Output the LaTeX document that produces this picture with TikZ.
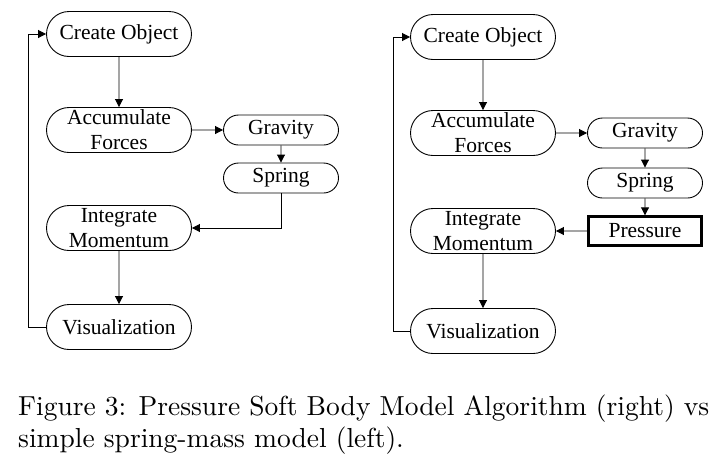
\documentclass[tikz,border=0pt]{standalone}
\usepackage{fontspec}
\newfontfamily\nodefont{Liberation Serif}
\newfontfamily\capfont{lmroman10-regular}[Extension=.otf]
\usetikzlibrary{arrows.meta,shapes.misc}
\begin{document}
\begin{tikzpicture}[x=1pt,y=-1pt,
  base/.style={draw, line width=0.9pt, inner sep=0pt, align=center,
    font=\nodefont\fontsize{21.5}{25}\selectfont},
  big/.style={base, rounded rectangle, minimum width=145pt, minimum height=45pt},
  small/.style={base, rounded rectangle, minimum width=115pt, minimum height=30pt},
  boxnode/.style={base, rectangle, line width=2.4pt, minimum width=113pt, minimum height=29pt},
  arr/.style={line width=0.9pt, -{Triangle[length=8pt,width=8pt]}},
  captext/.style={anchor=base west, inner sep=0pt, font=\capfont\fontsize{27.5}{32}\selectfont}
]
\useasboundingbox (0,0) rectangle (713,456);
% left diagram
\node[big] (c1) at (119,34) {Create Object};
\node[big] (a1) at (119,130) {Accumulate\\Forces};
\node[small] (g1) at (281,130) {Gravity};
\node[small] (s1) at (281,178) {Spring};
\node[big] (i1) at (119,228) {Integrate\\Momentum};
\node[big] (v1) at (119,327) {Visualization};
\coordinate (l1) at (28,0);
\draw[arr] (c1) -- (a1);
\draw[arr] (a1) -- (g1);
\draw[arr] (g1) -- (s1);
\draw[arr] (s1.south) |- (i1.east);
\draw[arr] (i1) -- (v1);
\draw[arr] (v1.west) -- (v1.west -| l1) |- (c1.west);
% right diagram
\node[big] (c2) at (483,37) {Create Object};
\node[big] (a2) at (483,133) {Accumulate\\Forces};
\node[small] (g2) at (645,133) {Gravity};
\node[small] (s2) at (645,183) {Spring};
\node[boxnode] (p2) at (645,231) {Pressure};
\node[big] (i2) at (483,231) {Integrate\\Momentum};
\node[big] (v2) at (483,331) {Visualization};
\coordinate (l2) at (393,0);
\draw[arr] (c2) -- (a2);
\draw[arr] (a2) -- (g2);
\draw[arr] (g2) -- (s2);
\draw[arr] (s2) -- (p2);
\draw[arr] (p2) -- (i2);
\draw[arr] (i2) -- (v2);
\draw[arr] (v2.west) -- (v2.west -| l2) |- (c2.west);
% caption
\node[captext] (cap1) at (18,415) {Figure 3: Pressure Soft Body Model Algorithm (right) vs};
\node[captext] (cap2) at (18,447) {simple spring-mass model (left).};
\end{tikzpicture}
\end{document}
